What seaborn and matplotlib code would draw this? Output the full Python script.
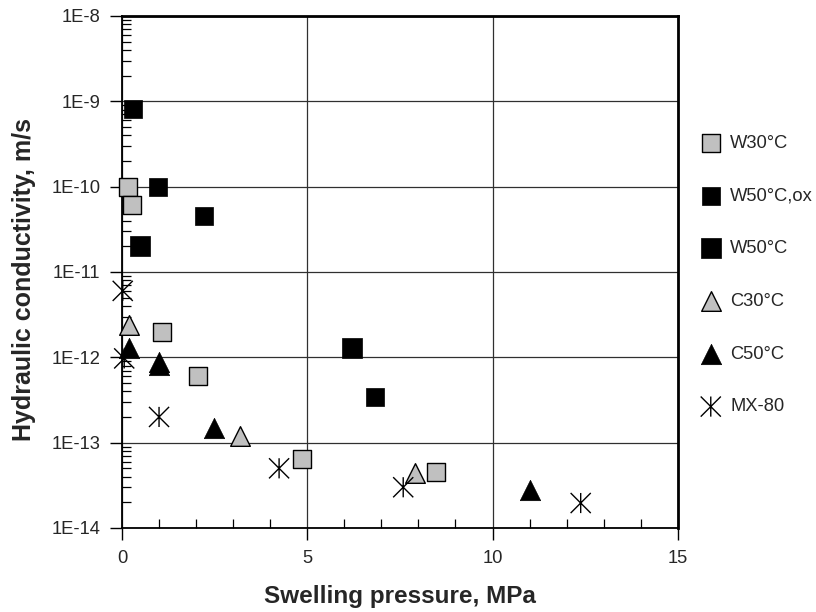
import numpy as np
import matplotlib
matplotlib.use("Agg")
import matplotlib.pyplot as plt
from matplotlib.path import Path
from matplotlib.ticker import FixedLocator, FuncFormatter, MultipleLocator
import seaborn as sns

# Swelling pressure (MPa) and hydraulic conductivity (m/s) per material
w30_p = [0.17, 0.28, 1.08, 2.05, 4.87, 8.48]
w30_k = [1.0e-10, 6.1e-11, 2.0e-12, 6.0e-13, 6.4e-14, 4.5e-14]

w50ox_p = [0.31, 0.96, 2.22, 6.83]
w50ox_k = [8.1e-10, 1.0e-10, 4.5e-11, 3.4e-13]

w50_p = [0.49, 6.21]
w50_k = [2.0e-11, 1.3e-12]

c30_p = [0.20, 3.19, 7.90]
c30_k = [2.4e-12, 1.2e-13, 4.4e-14]

c50_p = [0.19, 1.00, 1.00, 2.49, 11.0]
c50_k = [1.3e-12, 8.7e-13, 8.1e-13, 1.48e-13, 2.75e-14]

mx80_p = [0.02, 0.06, 1.00, 4.24, 7.59, 12.38]
mx80_k = [6.0e-12, 9.7e-13, 2.0e-13, 5.0e-14, 3.0e-14, 1.96e-14]

labels = ["W30°C", "W50°C,ox", "W50°C", "C30°C", "C50°C", "MX-80"]
x_ticks = [0, 5, 10, 15]
y_decades = [-14, -13, -12, -11, -10, -9, -8]

sns.set_style("ticks")
plt.rcParams["font.family"] = ["Liberation Sans", "DejaVu Sans"]

fig = plt.figure(figsize=(8.16, 6.12), dpi=100)
ax = fig.add_axes([0.1495, 0.1373, 0.8306 - 0.1495, 0.974 - 0.1373])

# asterisk: an X with a vertical bar through it
star = Path(
    [(-1, -1), (1, 1), (-1, 1), (1, -1), (0, -1), (0, 1)],
    [Path.MOVETO, Path.LINETO, Path.MOVETO, Path.LINETO, Path.MOVETO, Path.LINETO],
)

grey = "#c0c0c0"
common = dict(ax=ax, zorder=3, clip_on=False)
sns.scatterplot(x=w30_p, y=w30_k, marker="s", s=175, color=grey,
                edgecolor="black", linewidth=1.0, label=labels[0], **common)
sns.scatterplot(x=w50ox_p, y=w50ox_k, marker="s", s=150, color="black",
                edgecolor="black", linewidth=0.5, label=labels[1], **common)
sns.scatterplot(x=w50_p, y=w50_k, marker="s", s=205, color="black",
                edgecolor="black", linewidth=0.5, label=labels[2], **common)
sns.scatterplot(x=c30_p, y=c30_k, marker="^", s=200, color=grey,
                edgecolor="black", linewidth=1.0, label=labels[3], **common)
sns.scatterplot(x=c50_p, y=c50_k, marker="^", s=215, color="black",
                edgecolor="black", linewidth=0.5, label=labels[4], **common)
sns.scatterplot(x=mx80_p, y=mx80_k, marker=star, s=210, facecolor="none",
                edgecolor="black", linewidth=1.0, label=labels[5], ax=ax,
                zorder=4, clip_on=False)

ax.set_yscale("log")
ax.set_xlim(0, 15)
ax.set_ylim(1e-14, 1e-8)

ax.xaxis.set_major_locator(FixedLocator(x_ticks))
ax.xaxis.set_minor_locator(MultipleLocator(1))
ax.yaxis.set_major_locator(FixedLocator([10.0 ** d for d in y_decades]))
ax.yaxis.set_minor_locator(FixedLocator(
    [m * 10.0 ** d for d in y_decades[:-1] for m in range(2, 10)]))
ax.yaxis.set_major_formatter(FuncFormatter(
    lambda v, _: "1E{:d}".format(int(round(np.log10(v))))))
ax.yaxis.set_minor_formatter(FuncFormatter(lambda v, _: ""))

ax.tick_params(axis="both", which="major", direction="out", length=8.5,
               width=1.0, color="black", labelsize=13.2, pad=7)
ax.tick_params(axis="both", which="minor", direction="in", length=6.5,
               width=0.9, color="black")
ax.tick_params(top=False, right=False, which="both")

ax.grid(True, which="major", color="#303030", linewidth=0.9)
ax.set_axisbelow(True)

for side in ["left", "bottom"]:
    ax.spines[side].set_linewidth(1.3)
for side in ["top", "right"]:
    ax.spines[side].set_linewidth(2.0)
for sp in ax.spines.values():
    sp.set_color("black")

ax.set_xlabel("Swelling pressure, MPa", fontsize=17.5, fontweight="bold", labelpad=13)
ax.set_ylabel("Hydraulic conductivity, m/s", fontsize=18, fontweight="bold")
ax.yaxis.set_label_coords(-0.155, 0.485)

ax.legend(loc="center left", bbox_to_anchor=(1.0, 0.494), frameon=False,
          fontsize=13.2, borderaxespad=1.2, borderpad=0, handlelength=1.2,
          handletextpad=0.45, labelspacing=1.95, scatterpoints=1)

fig.savefig("out.png", dpi=100)
